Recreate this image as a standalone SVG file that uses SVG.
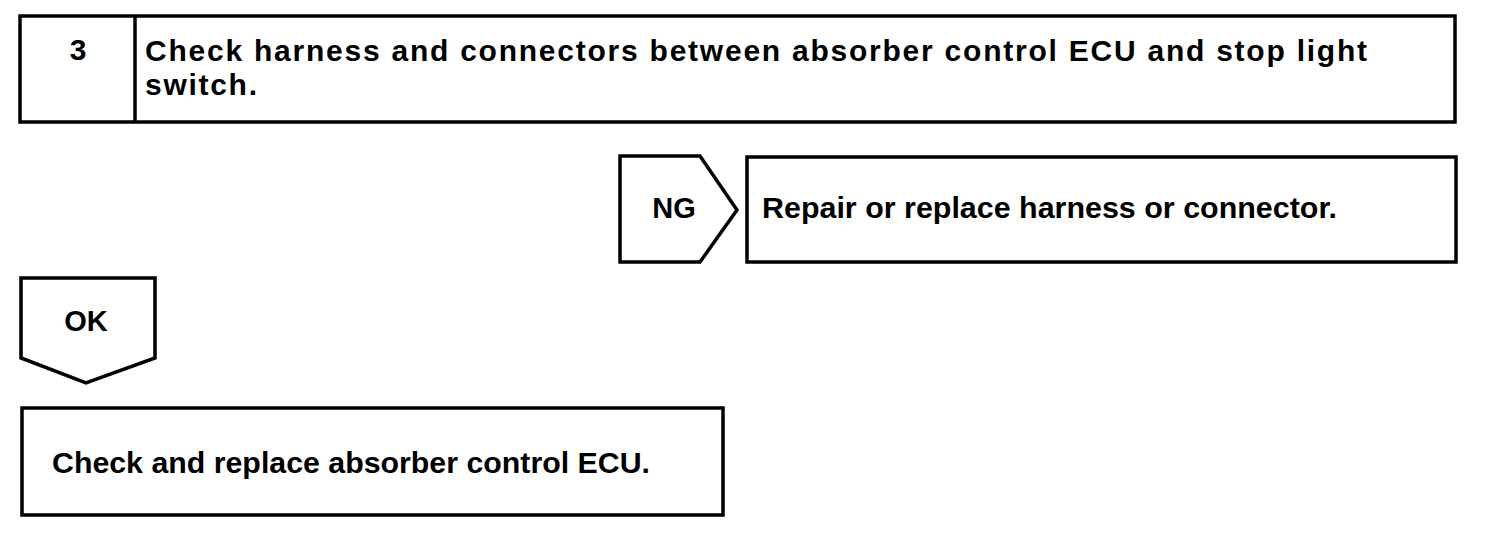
<svg xmlns="http://www.w3.org/2000/svg" width="1504" height="534" viewBox="0 0 1504 534">
<style>
.box{fill:#fff;stroke:#000;stroke-width:3.5;stroke-linejoin:miter}
.t{font-family:"Liberation Sans",Arial,sans-serif;font-weight:bold;font-size:29px;fill:#000}
.top{font-size:30px}
.c{text-anchor:middle}
</style>
<rect width="1504" height="534" fill="#fff"/>
<g id="step3">
<rect class="box" x="20" y="16" width="1435" height="106"/>
<line x1="135" y1="16" x2="135" y2="122" stroke="#000" stroke-width="3.5"/>
<text class="t top c" x="78" y="60">3</text>
<text class="t top" x="145" y="61" textLength="1222" lengthAdjust="spacing">Check harness and connectors between absorber control ECU and stop light</text>
<text class="t top" x="145" y="95" textLength="112" lengthAdjust="spacing">switch.</text>
</g>
<g id="connectors">
<g id="ng">
<path class="box" d="M620,156 L700,156 L737,210 L700,262 L620,262 Z"/>
<text class="t c" x="674" y="218">NG</text>
</g>
<g id="ok">
<path class="box" d="M21,278 L155,278 L155,358 L86,383 L21,358 Z"/>
<text class="t c" x="86" y="331">OK</text>
</g>
</g>
<g id="repair">
<rect class="box" x="747" y="157" width="709" height="105"/>
<text class="t" x="762" y="218" textLength="575" lengthAdjust="spacingAndGlyphs">Repair or replace harness or connector.</text>
</g>
<g id="replace-ecu">
<rect class="box" x="22" y="408" width="701" height="107"/>
<text class="t" x="52" y="473" textLength="598" lengthAdjust="spacingAndGlyphs">Check and replace absorber control ECU.</text>
</g>
</svg>
